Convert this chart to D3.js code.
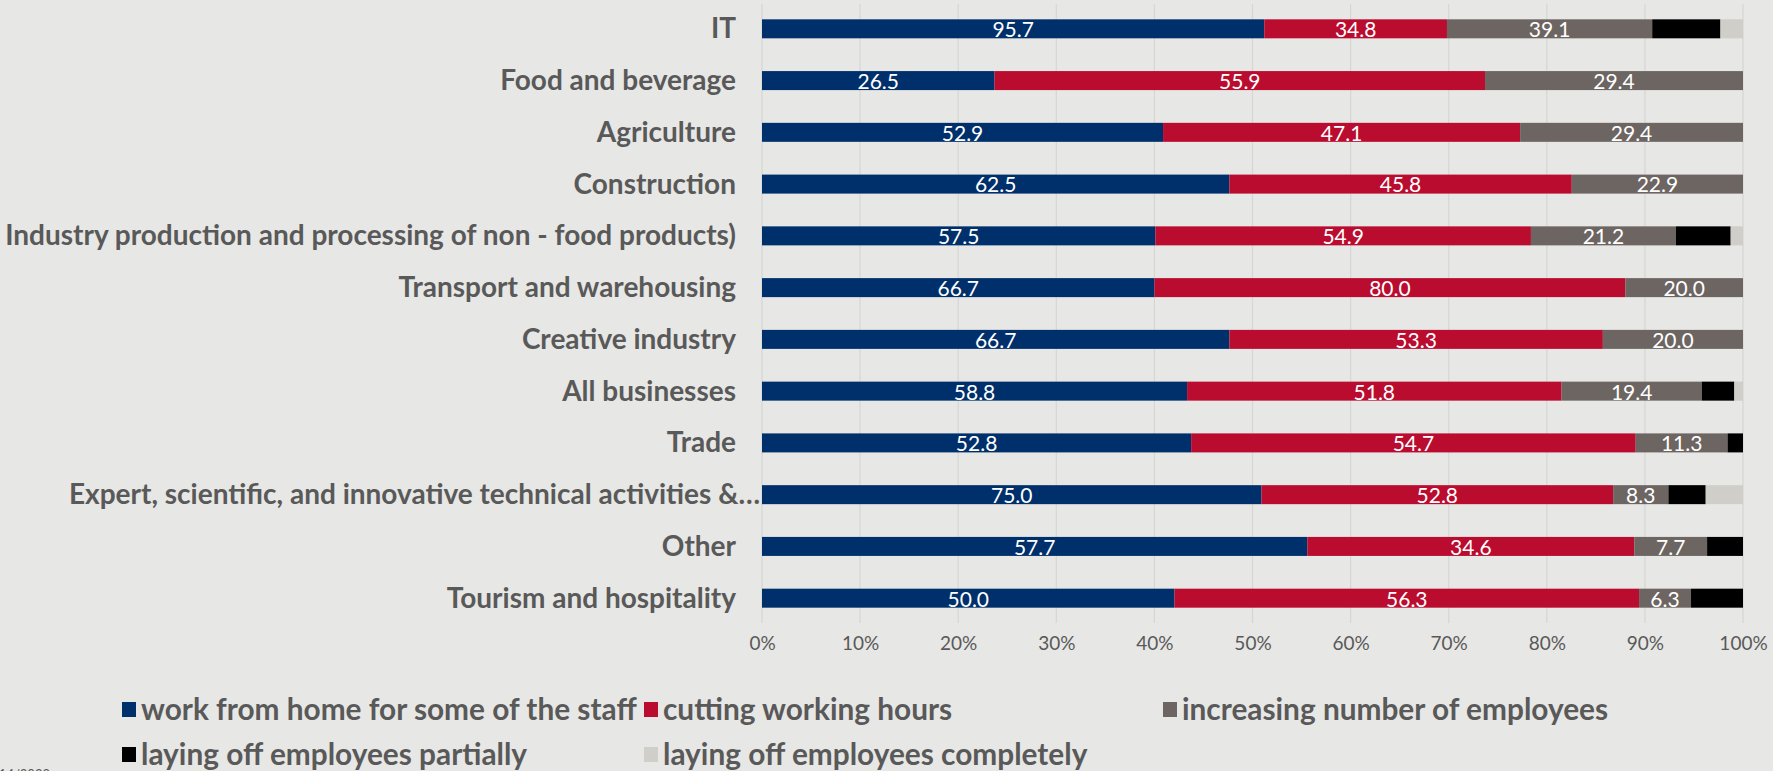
<!DOCTYPE html>
<html>
<head>
<meta charset="utf-8">
<script src="https://cdn.jsdelivr.net/npm/d3@7"></script>
<style>
  html, body { margin: 0; padding: 0; background: #e7e7e5; }
  svg { display: block; }
</style>
</head>
<body>
<svg id="chart" width="1773" height="771"></svg>
<script>
// Sectors, top to bottom
const categories = [
  "IT",
  "Food and beverage",
  "Agriculture",
  "Construction",
  "Industry production and processing of non - food products)",
  "Transport and warehousing",
  "Creative industry",
  "All businesses",
  "Trade",
  "Expert, scientific, and innovative technical activities &…",
  "Other",
  "Tourism and hospitality"
];

// Share of firms (%) taking each measure, per sector
const workFromHome    = [95.7, 26.5, 52.9, 62.5, 57.5, 66.7, 66.7, 58.8, 52.8, 75.0, 57.7, 50.0];
const cuttingHours    = [34.8, 55.9, 47.1, 45.8, 54.9, 80.0, 53.3, 51.8, 54.7, 52.8, 34.6, 56.3];
const increasingStaff = [39.1, 29.4, 29.4, 22.9, 21.2, 20.0, 20.0, 19.4, 11.3, 8.3, 7.7, 6.3];
const layoffPartial   = [13.0, 0, 0, 0, 8.0, 0, 0, 4.5, 1.9, 5.6, 3.8, 6.3];
const layoffComplete  = [4.3, 0, 0, 0, 1.8, 0, 0, 1.2, 0, 5.6, 0, 0];

const seriesNames = [
  "work from home for some of the staff",
  "cutting working hours",
  "increasing number of employees",
  "laying off employees partially",
  "laying off employees completely"
];
const seriesValues = [workFromHome, cuttingHours, increasingStaff, layoffPartial, layoffComplete];
const seriesColors = ["#00306b", "#ba0c2f", "#6d6562", "#000000", "#d0cec9"];
const labelledSeries = [true, true, true, false, false];

const xTicks = d3.range(0, 1.0001, 0.1);
const dateNote = "5/14/2020";

const font = "Lato, 'Open Sans', sans-serif";
const textGray = "#595959";

const svg = d3.select("#chart");

const plot = { left: 762, right: 1743, top: 4, bottom: 623 };

const x = d3.scaleLinear().domain([0, 1]).range([plot.left, plot.right]);
const y = d3.scaleBand()
  .domain(categories)
  .range([plot.top, plot.bottom])
  .paddingInner(0.633)
  .paddingOuter(0.296);

// Rows for the stack layout
const rows = categories.map((c, i) => {
  const r = { category: c };
  seriesNames.forEach((s, k) => { r[s] = seriesValues[k][i]; });
  return r;
});

const stacked = d3.stack()
  .keys(seriesNames)
  .offset(d3.stackOffsetExpand)(rows);

// Vertical gridlines
svg.append("g")
  .selectAll("line")
  .data(xTicks)
  .join("line")
  .attr("x1", d => x(d)).attr("x2", d => x(d))
  .attr("y1", plot.top).attr("y2", plot.bottom)
  .attr("stroke", "#d6d6d4")
  .attr("stroke-width", 1.2);

// Bottom axis labels
const xAxis = svg.append("g")
  .attr("transform", `translate(0,${plot.bottom})`)
  .call(d3.axisBottom(x).tickValues(xTicks).tickFormat(d3.format(".0%")).tickSize(0).tickPadding(14));
xAxis.select(".domain").remove();
xAxis.selectAll("text")
  .attr("font-family", font)
  .attr("font-size", 19)
  .attr("fill", textGray);

// Stacked bars
const layers = svg.append("g")
  .selectAll("g")
  .data(stacked)
  .join("g")
  .attr("fill", (d, i) => seriesColors[i]);

layers.selectAll("rect")
  .data(d => d)
  .join("rect")
  .attr("x", d => x(d[0]))
  .attr("y", d => y(d.data.category))
  .attr("width", d => Math.max(0, x(d[1]) - x(d[0])))
  .attr("height", y.bandwidth());

// Value labels inside the segments
layers.each(function (layer, k) {
  if (!labelledSeries[k]) return;
  d3.select(this).selectAll("text")
    .data(layer.filter(d => d.data[layer.key] > 0))
    .join("text")
    .attr("x", d => (x(d[0]) + x(d[1])) / 2)
    .attr("y", d => y(d.data.category) + y.bandwidth() / 2)
    .attr("dy", "0.4em")
    .attr("text-anchor", "middle")
    .attr("font-family", font)
    .attr("font-size", 21)
    .attr("fill", "#ffffff")
    .text(d => d3.format(".1f")(d.data[layer.key]));
});

// Category labels
svg.append("g")
  .selectAll("text")
  .data(categories)
  .join("text")
  .attr("x", d => d.endsWith("…") ? plot.left - 2 : plot.left - 26)
  .attr("y", d => y(d) + y.bandwidth() / 2)
  .attr("dy", "0.34em")
  .attr("text-anchor", "end")
  .attr("font-family", font)
  .attr("font-weight", "bold")
  .attr("font-size", 28)
  .attr("fill", textGray)
  .text(d => d);

// Legend: two rows
const legendPos = [
  { x: 122, y: 710 }, { x: 644, y: 710 }, { x: 1163, y: 710 },
  { x: 122, y: 755 }, { x: 644, y: 755 }
];
const legend = svg.append("g")
  .selectAll("g")
  .data(seriesNames)
  .join("g")
  .attr("transform", (d, i) => `translate(${legendPos[i].x},${legendPos[i].y})`);
legend.append("rect")
  .attr("x", 0).attr("y", -8)
  .attr("width", 14).attr("height", 15)
  .attr("fill", (d, i) => seriesColors[i]);
legend.append("text")
  .attr("x", 19)
  .attr("y", 0)
  .attr("dy", "0.35em")
  .attr("font-family", font)
  .attr("font-weight", "bold")
  .attr("font-size", 29.8)
  .attr("fill", textGray)
  .text(d => d);

// Date note at the bottom-left edge
svg.append("text")
  .attr("x", 50)
  .attr("y", 779)
  .attr("text-anchor", "end")
  .attr("font-family", font)
  .attr("font-size", 13)
  .attr("fill", textGray)
  .text(dateNote);
</script>
</body>
</html>
